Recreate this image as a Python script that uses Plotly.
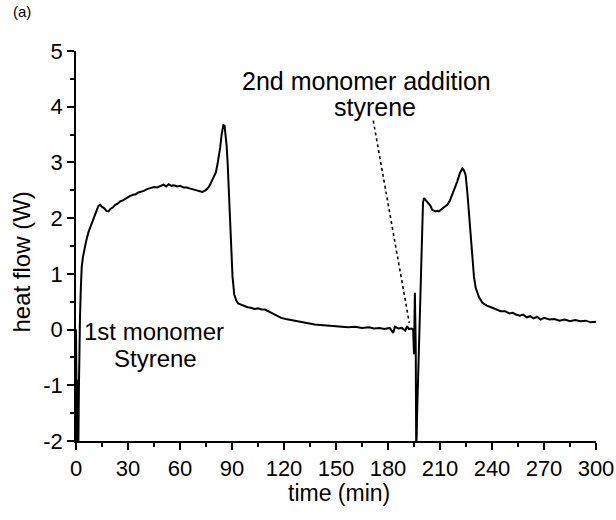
import plotly.graph_objects as go

# heat flow trace (time in min, heat flow in W)
time_min = [
    0.0, 0.6, 1.0, 1.3, 1.7, 2.0, 2.3, 2.8, 3.3, 4.0, 4.6, 5.8, 7.1, 8.5, 10.0, 11.5, 12.9, 14.0, 15.0, 16.2,
    17.5, 18.7, 20.0, 21.2, 22.6, 24.0, 25.5, 27.0, 28.5, 30.0, 31.3, 33.0, 34.5, 36.0, 37.5, 39.1, 41.0, 43.0,
    45.0, 46.8, 48.8, 50.5, 52.0, 53.5, 55.0, 56.5, 58.4, 60.0, 62.0, 64.0, 66.0, 68.1, 70.0, 71.5, 72.9, 74.2,
    75.5, 76.8, 78.0, 79.2, 80.7, 81.7, 82.5, 83.2, 84.0, 85.0, 85.7, 86.4, 86.9, 87.5, 88.5, 89.4, 90.3, 91.3,
    92.5, 93.5, 95.2, 97.0, 99.0, 101.0, 103.0, 105.0, 107.0, 109.0, 111.0, 112.6, 114.5, 116.5, 118.4, 121.0,
    124.0, 127.0, 130.0, 134.0, 137.7, 141.0, 145.0, 149.0, 153.0, 157.0, 161.0, 165.0, 169.0, 172.0, 175.0,
    178.0, 181.0, 183.0, 184.0, 186.0, 188.0, 190.0, 191.0, 192.0, 193.5, 194.5, 195.0, 195.5, 196.0, 196.3,
    196.8, 197.3, 198.0, 198.7, 199.2, 199.7, 200.2, 200.8, 201.5, 202.6, 203.5, 204.5, 205.5, 206.4, 207.4,
    208.3, 209.3, 210.5, 211.8, 213.0, 214.2, 215.5, 217.1, 218.5, 220.0, 221.5, 222.9, 223.8, 224.8, 225.8,
    226.7, 227.7, 228.7, 229.6, 230.6, 232.5, 234.5, 237.0, 239.5, 242.2, 245.0, 247.5, 250.0, 252.0, 253.8,
    256.0, 258.0, 260.0, 262.0, 264.0, 266.0, 268.0, 270.0, 273.2, 276.0, 279.0, 282.0, 285.0, 288.0, 291.0,
    294.0, 297.0, 300.0,
]
heat_flow_w = [
    0.0, -2.3, -0.9, -2.3, -1.0, -0.2, 0.22, 0.75, 1.12, 1.30, 1.42, 1.58, 1.74, 1.86, 1.98, 2.12, 2.22, 2.24, 2.20, 2.18,
    2.13, 2.12, 2.17, 2.19, 2.24, 2.26, 2.30, 2.32, 2.35, 2.37, 2.40, 2.42, 2.43, 2.46, 2.47, 2.49, 2.52, 2.54,
    2.56, 2.55, 2.58, 2.60, 2.57, 2.61, 2.58, 2.59, 2.57, 2.58, 2.55, 2.55, 2.53, 2.51, 2.50, 2.48, 2.47, 2.49,
    2.52, 2.57, 2.64, 2.72, 2.82, 2.98, 3.12, 3.27, 3.50, 3.67, 3.66, 3.45, 3.30, 2.98, 2.20, 1.47, 0.95, 0.63,
    0.52, 0.47, 0.45, 0.42, 0.40, 0.39, 0.37, 0.38, 0.36, 0.36, 0.33, 0.30, 0.27, 0.24, 0.21, 0.19,
    0.17, 0.15, 0.13, 0.11, 0.09, 0.08, 0.07, 0.06, 0.05, 0.04, 0.05, 0.03, 0.04, 0.02, 0.03,
    0.01, 0.03, -0.06, 0.05, 0.02, 0.03, -0.02, 0.06, 0.01, 0.02, 0.0, -0.44, 0.66, -0.3, -2.3,
    -1.5, -0.91, 0.1, 0.87, 1.5, 2.06, 2.28, 2.36, 2.33, 2.30, 2.25, 2.22, 2.15, 2.14, 2.12,
    2.13, 2.12, 2.15, 2.18, 2.21, 2.24, 2.30, 2.42, 2.52, 2.66, 2.81, 2.89, 2.86, 2.77, 2.45,
    2.06, 1.62, 1.23, 0.95, 0.75, 0.58, 0.48, 0.43, 0.40, 0.36, 0.33, 0.33, 0.29, 0.30, 0.27,
    0.25, 0.27, 0.22, 0.24, 0.20, 0.23, 0.18, 0.21, 0.18, 0.19, 0.16, 0.18, 0.15, 0.17, 0.15,
    0.16, 0.13, 0.14,
]

# dotted pointer line for the 2nd monomer addition
pointer_x = [171.5, 192.3]
pointer_y = [3.75, 0.12]

x_ticks = [0, 30, 60, 90, 120, 150, 180, 210, 240, 270, 300]
x_tick_text = ["0", "30", "60", "90", "120", "150", "180", "210", "240", "270", "300"]
y_ticks = [-2, -1, 0, 1, 2, 3, 4, 5]
y_tick_text = ["-2", "-1", "0", "1", "2", "3", "4", "5"]

FONT = "Liberation Sans, Arial, sans-serif"

fig = go.Figure()
fig.add_trace(go.Scatter(x=time_min, y=heat_flow_w, mode="lines",
                         line=dict(color="black", width=2), hoverinfo="skip"))
fig.add_trace(go.Scatter(x=pointer_x, y=pointer_y, mode="lines",
                         line=dict(color="black", width=1.6, dash="dot"), hoverinfo="skip"))

axis_common = dict(showline=True, linecolor="black", linewidth=1.5, ticks="outside",
                   tickcolor="black", tickwidth=1.5, ticklen=7, showgrid=False, zeroline=False,
                   ticklabeloverflow="allow", automargin=False,
                   tickfont=dict(family=FONT, size=22, color="black"))

fig.update_xaxes(range=[0, 300], tickvals=x_ticks, ticktext=x_tick_text,
                 minor=dict(ticks="outside", dtick=15, tick0=0, ticklen=4, tickwidth=1.5, tickcolor="black"),
                 **axis_common)
fig.update_yaxes(range=[-2, 5], tickvals=y_ticks, ticktext=y_tick_text,
                 minor=dict(ticks="outside", dtick=0.5, tick0=0, ticklen=4, tickwidth=1.5, tickcolor="black"),
                 **axis_common)

annots = [
    dict(text="heat flow (W)", xref="paper", yref="paper", x=-0.104, y=0.46, textangle=-90,
         showarrow=False, xanchor="center", yanchor="middle", font=dict(size=24)),
    dict(text="time (min)", xref="paper", yref="paper", x=0.505, y=-0.133,
         showarrow=False, xanchor="center", yanchor="middle", font=dict(size=23)),
    dict(text="(a)", xref="paper", yref="paper", x=-0.125, y=1.1,
         showarrow=False, xanchor="left", yanchor="middle", font=dict(size=15)),
    dict(text="2nd monomer addition", xref="x", yref="y", x=167.5, y=4.47,
         showarrow=False, xanchor="center", yanchor="middle", font=dict(size=25)),
    dict(text="styrene", xref="x", yref="y", x=172.5, y=4.0,
         showarrow=False, xanchor="center", yanchor="middle", font=dict(size=25)),
    dict(text="1st monomer", xref="x", yref="y", x=45.0, y=-0.03,
         showarrow=False, xanchor="center", yanchor="middle", font=dict(size=24)),
    dict(text="Styrene", xref="x", yref="y", x=46.0, y=-0.52,
         showarrow=False, xanchor="center", yanchor="middle", font=dict(size=24)),
]
for a in annots:
    a["font"].update(family=FONT, color="black")
fig.update_layout(annotations=annots)

fig.update_layout(width=616, height=520, margin=dict(l=76, r=20, t=51, b=79),
                  paper_bgcolor="white", plot_bgcolor="white", showlegend=False)

fig.write_html("out.html")
